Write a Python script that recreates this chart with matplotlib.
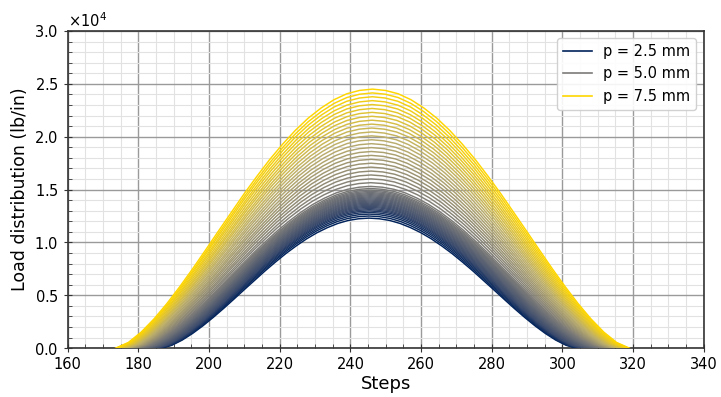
import numpy as np
import matplotlib
matplotlib.use("Agg")
import matplotlib.pyplot as plt
from matplotlib.ticker import MultipleLocator, ScalarFormatter
from matplotlib.lines import Line2D
from matplotlib.colors import LinearSegmentedColormap

# pitch values (mm)
p_values = [2.5, 2.6, 2.7, 2.8, 2.9, 3.0, 3.1, 3.2, 3.3, 3.4,
            3.5, 3.6, 3.7, 3.8, 3.9, 4.0, 4.1, 4.2, 4.3, 4.4,
            4.5, 4.6, 4.7, 4.8, 4.9, 5.0, 5.1, 5.2, 5.3, 5.4,
            5.5, 5.6, 5.7, 5.8, 5.9, 6.0, 6.1, 6.2, 6.3, 6.4,
            6.5, 6.6, 6.7, 6.8, 6.9, 7.0, 7.1, 7.2, 7.3, 7.4, 7.5]

# peak load of each curve (lb/in)
peak_load = [12300, 12500, 12680, 12840, 12980, 13100, 13210, 13320, 13420, 13520,
             13620, 13720, 13820, 13920, 14020, 14120, 14220, 14320, 14420, 14520,
             14620, 14720, 14830, 14950, 15100, 15300, 15650, 16010, 16380, 16750,
             17120, 17490, 17860, 18230, 18600, 18970, 19340, 19710, 20080, 20450,
             20820, 21190, 21560, 21930, 22300, 22670, 23040, 23410, 23780, 24140, 24500]

# first and last step of contact for each curve
start_step = [186.5, 186.2, 186.0, 185.7, 185.5, 185.2, 184.9, 184.7, 184.4, 184.2,
              183.9, 183.6, 183.4, 183.1, 182.9, 182.6, 182.3, 182.1, 181.8, 181.6,
              181.3, 181.0, 180.8, 180.5, 180.3, 180.0, 179.7, 179.5, 179.2, 179.0,
              178.7, 178.4, 178.2, 177.9, 177.7, 177.4, 177.1, 176.9, 176.6, 176.4,
              176.1, 175.8, 175.6, 175.3, 175.1, 174.8, 174.5, 174.3, 174.0, 173.8, 173.5]
end_step = [304.0, 304.3, 304.6, 304.9, 305.2, 305.5, 305.8, 306.1, 306.4, 306.7,
            307.0, 307.3, 307.6, 307.9, 308.2, 308.5, 308.8, 309.1, 309.4, 309.7,
            310.0, 310.3, 310.6, 310.9, 311.2, 311.5, 311.8, 312.1, 312.4, 312.7,
            313.0, 313.3, 313.6, 313.9, 314.2, 314.5, 314.8, 315.1, 315.4, 315.7,
            316.0, 316.3, 316.6, 316.9, 317.2, 317.5, 317.8, 318.1, 318.4, 318.7, 319.0]

# normalised load profile across the contact
profile_pos = [0.000, 0.025, 0.050, 0.075, 0.100, 0.125, 0.150, 0.175, 0.200, 0.225,
               0.250, 0.275, 0.300, 0.325, 0.350, 0.375, 0.400, 0.425, 0.450, 0.475,
               0.500, 0.525, 0.550, 0.575, 0.600, 0.625, 0.650, 0.675, 0.700, 0.725,
               0.750, 0.775, 0.800, 0.825, 0.850, 0.875, 0.900, 0.925, 0.950, 0.975, 1.000]
profile_val = [0.000, 0.022, 0.062, 0.113, 0.172, 0.237, 0.306, 0.378, 0.451, 0.523,
               0.595, 0.663, 0.728, 0.787, 0.841, 0.888, 0.927, 0.959, 0.982, 0.995,
               1.000, 0.995, 0.982, 0.959, 0.927, 0.888, 0.841, 0.787, 0.728, 0.663,
               0.595, 0.523, 0.451, 0.378, 0.306, 0.237, 0.172, 0.113, 0.062, 0.022, 0.000]

legend_labels = ["p = 2.5 mm", "p = 5.0 mm", "p = 7.5 mm"]

fig = plt.figure(figsize=(7.21, 3.97), dpi=100)
ax = fig.add_axes([0.094, 0.123, 0.882, 0.799])

cmap = LinearSegmentedColormap.from_list(
    "pc", [(0.0, "#00225a"), (0.12, "#3a4a6c"), (0.5, "#7c7b78"),
           (0.75, "#bcae6c"), (1.0, "#ffd600")])
pmin, pmax = min(p_values), max(p_values)
pos = np.array(profile_pos)
val = np.array(profile_val)
for p, pk, s, e in zip(p_values, peak_load, start_step, end_step):
    c = cmap((p - pmin) / (pmax - pmin))
    ax.plot(s + pos * (e - s), pk * val, color=c, lw=1.05, zorder=3)

ax.set_xlim(160, 340)
ax.set_ylim(0, 30000)
ax.xaxis.set_major_locator(MultipleLocator(20))
ax.xaxis.set_minor_locator(MultipleLocator(5))
ax.yaxis.set_major_locator(MultipleLocator(5000))
ax.yaxis.set_minor_locator(MultipleLocator(1000))
fmt = ScalarFormatter(useMathText=True)
fmt.set_powerlimits((0, 0))
ax.yaxis.set_major_formatter(fmt)
ax.yaxis.get_offset_text().set_fontsize(10.5)

ax.grid(which="major", color="#9a9a9a", lw=1.0, zorder=0)
ax.grid(which="minor", color="#e2e2e2", lw=0.8, zorder=0)
ax.set_axisbelow(True)
ax.tick_params(which="major", direction="inout", length=6, labelsize=10.5, color="#333333")
ax.tick_params(which="minor", direction="in", length=3, color="#333333")
for sp in ax.spines.values():
    sp.set_color("#333333")
    sp.set_linewidth(1.2)

ax.set_xlabel("Steps", fontsize=13, labelpad=2)
ax.set_ylabel("Load distribution (lb/in)", fontsize=12.5)

handles = [Line2D([0], [0], color=cmap(0.0), lw=1.2),
           Line2D([0], [0], color=cmap(0.5), lw=1.2),
           Line2D([0], [0], color=cmap(1.0), lw=1.2)]
ax.legend(handles, legend_labels, loc="upper right", fontsize=10.5, framealpha=0.9)

fig.savefig("out.png", dpi=100)
